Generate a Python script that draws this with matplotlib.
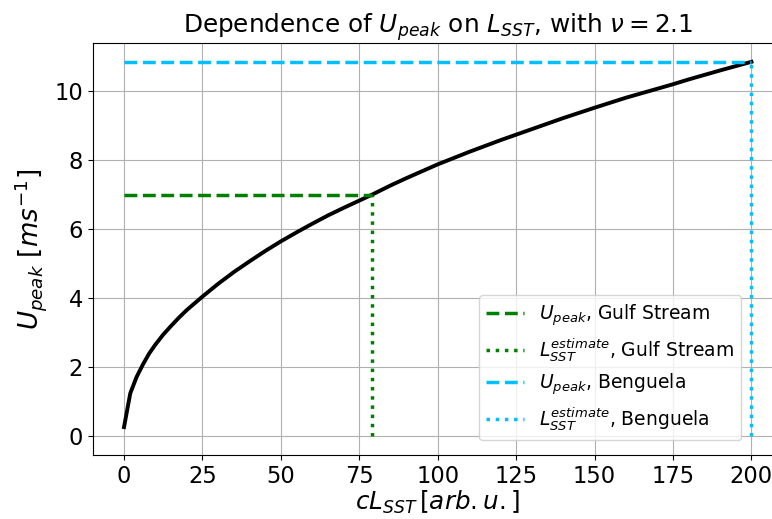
import matplotlib.pyplot as plt

# values
l_sst = [0, 2, 4, 6, 8, 10, 12.5, 15, 17.5, 20, 25, 30, 35, 40, 45, 50,
         55, 60, 65, 70, 75, 79, 85, 90, 95, 100, 110, 120, 125, 130, 140,
         150, 160, 170, 175, 180, 190, 200]
u_peak = [0.27, 1.25, 1.72, 2.08, 2.4, 2.66, 2.95, 3.2, 3.44, 3.66, 4.05,
          4.42, 4.76, 5.07, 5.37, 5.65, 5.91, 6.16, 6.4, 6.62, 6.83, 7.0,
          7.27, 7.48, 7.68, 7.88, 8.24, 8.58, 8.74, 8.9, 9.22, 9.52, 9.81,
          10.07, 10.2, 10.34, 10.6, 10.85]

gulf_l, gulf_u = 79, 7.0
beng_l, beng_u = 200, 10.85

fig = plt.figure(figsize=(7.72, 5.19), dpi=100)
ax = fig.add_axes([0.120, 0.123, 0.894, 0.794])

ax.plot(l_sst, u_peak, color="black", lw=2.8)
ax.plot([0, gulf_l], [gulf_u, gulf_u], "--", color="green", lw=2.5,
        label=r"$U_{peak}$, Gulf Stream")
ax.plot([gulf_l, gulf_l], [0, gulf_u], ":", color="green", lw=2.5,
        label=r"$L_{SST}^{estimate}$, Gulf Stream")
ax.plot([0, beng_l], [beng_u, beng_u], "--", color="deepskyblue", lw=2.5,
        label=r"$U_{peak}$, Benguela")
ax.plot([beng_l, beng_l], [0, beng_u], ":", color="deepskyblue", lw=2.5,
        label=r"$L_{SST}^{estimate}$, Benguela")

ax.set_title(r"Dependence of $U_{peak}$ on $L_{SST}$, with $\nu = 2.1$",
             fontsize=17.8)
ax.set_xlabel(r"$cL_{SST}\,[arb.u.]$", fontsize=17.7, labelpad=1)
ax.set_ylabel(r"$U_{peak}$ $[ms^{-1}]$", fontsize=18.8)
ax.tick_params(labelsize=16.3)
ax.grid(True)
ax.legend(loc="lower left", bbox_to_anchor=(0.5596, 0.036), borderaxespad=0,
          fontsize=13.5, labelspacing=0.42)

fig.savefig("out.png", dpi=100)
